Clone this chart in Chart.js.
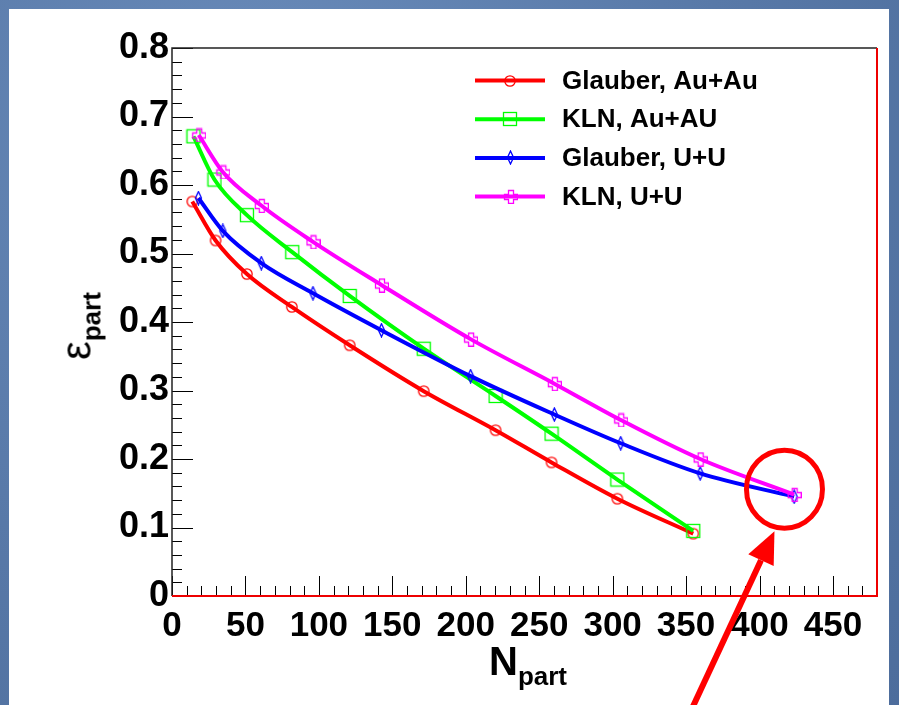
<!DOCTYPE html>
<html>
<head>
<meta charset="utf-8">
<title>eccentricity vs Npart</title>
<script src="https://cdn.jsdelivr.net/npm/chart.js@4.4.0/dist/chart.umd.min.js"></script>
<style>
    html, body { margin: 0; padding: 0; }
    body {
        width: 899px; height: 705px; overflow: hidden; position: relative;
        background: radial-gradient(circle at 30% 20%, #6a8cbb 0%, #5879a8 55%, #4d6d9c 100%);
        font-family: "Liberation Sans", Arial, Helvetica, sans-serif;
    }
    #panel { position: absolute; left: 9px; top: 9px; width: 880px; height: 700px; background: #fff; }
    #chartBox { position: absolute; left: 0; top: 0; width: 899px; height: 705px; }
    .ttl { position: absolute; font-weight: bold; color: #000; white-space: nowrap; line-height: 1; }
    .ttl sub { font-size: 26px; vertical-align: -10px; }
</style>
</head>
<body>
<div id="panel"></div>
<div id="chartBox"><canvas id="eccChart" width="899" height="705"></canvas></div>
<div class="ttl" id="yTitle" style="left:80px; top:326px; transform: translate(-50%,-50%) rotate(-90deg);">
    <span style="font-weight:normal; font-size:42px;">ε</span><sub>part</sub>
</div>
<div class="ttl" id="xTitle" style="left:489px; top:641px; font-size:40px;">N<sub>part</sub></div>

<script>
// Data
const glauberAuX = [13.8, 29.7, 51.0, 81.6, 121.0, 171.4, 220.3, 258.4, 303.2, 354.9];
const glauberAuY = [0.576, 0.519, 0.470, 0.422, 0.366, 0.299, 0.242, 0.195, 0.142, 0.091];

const klnAuX = [14.6, 28.9, 51.0, 81.9, 121.0, 171.4, 220.3, 258.4, 303.2, 354.9];
const klnAuY = [0.671, 0.608, 0.556, 0.502, 0.438, 0.361, 0.292, 0.237, 0.170, 0.095];

const glauberUX = [18.0, 34.6, 60.8, 96.0, 142.6, 203.3, 260.3, 305.5, 359.6, 423.6];
const glauberUY = [0.581, 0.533, 0.486, 0.442, 0.388, 0.321, 0.265, 0.223, 0.179, 0.145];

const klnUX = [18.2, 34.6, 60.8, 96.0, 142.6, 203.3, 260.3, 305.5, 359.6, 423.6];
const klnUY = [0.673, 0.619, 0.570, 0.517, 0.454, 0.375, 0.310, 0.257, 0.200, 0.148];

const seriesLabels = ['Glauber, Au+Au', 'KLN, Au+AU', 'Glauber, U+U', 'KLN, U+U'];

// Axis ticks
const xMajorTicks = [0, 50, 100, 150, 200, 250, 300, 350, 400, 450];
const yMajorTicks = [0, 0.1, 0.2, 0.3, 0.4, 0.5, 0.6, 0.7, 0.8];
const xRange = [0, 480];
const yRange = [0, 0.8];

// highlighted region (data units), circled in red on the slide
const highlight = { x: 417, y: 0.156 };

function toPoints(xs, ys) {
    return xs.map((x, i) => ({ x: x, y: ys[i] }));
}

function makeMarker(w, h, color, drawFn) {
    const c = document.createElement('canvas');
    c.width = w;
    c.height = h;
    const g = c.getContext('2d');
    g.strokeStyle = color;
    g.lineWidth = 1.3;
    drawFn(g);
    return c;
}

const circleMarker = makeMarker(14, 14, '#ff0000', g => {
    g.beginPath(); g.arc(7, 7, 5.2, 0, Math.PI * 2); g.stroke();
});
const squareMarker = makeMarker(16, 16, '#00ff00', g => {
    g.strokeRect(1.5, 1.5, 13, 13);
});
const diamondMarker = makeMarker(9, 15, '#0000ff', g => {
    g.beginPath();
    g.moveTo(4.5, 1); g.lineTo(7.5, 7.5); g.lineTo(4.5, 14); g.lineTo(1.5, 7.5);
    g.closePath(); g.stroke();
});
const crossMarker = makeMarker(15, 15, '#ff00ff', g => {
    g.beginPath();
    const p = [[5,1],[10,1],[10,5],[14,5],[14,10],[10,10],[10,14],[5,14],[5,10],[1,10],[1,5],[5,5]];
    p.forEach((q, i) => i ? g.lineTo(q[0] + 0.5, q[1] + 0.5) : g.moveTo(q[0] + 0.5, q[1] + 0.5));
    g.closePath(); g.stroke();
});

// ROOT style frame + inward ticks
const framePlugin = {
    id: 'frame',
    beforeDatasetsDraw(chart) {
        const { ctx, chartArea: a, scales } = chart;
        ctx.save();
        ctx.strokeStyle = '#000';
        ctx.lineWidth = 1;
        ctx.beginPath();
        for (let v = 0; v <= 480; v += 10) {
            const px = Math.round(scales.x.getPixelForValue(v)) + 0.5;
            const len = v % 50 === 0 ? 20 : 10;
            ctx.moveTo(px, a.bottom);
            ctx.lineTo(px, a.bottom - len);
        }
        for (let k = 0; k <= 40; k++) {
            const py = Math.round(scales.y.getPixelForValue(k * 0.02)) + 0.5;
            const len = k % 5 === 0 ? 21 : 10;
            ctx.moveTo(a.left, py);
            ctx.lineTo(a.left + len, py);
        }
        ctx.stroke();

        // top and left in black
        ctx.strokeStyle = '#222';
        ctx.lineWidth = 1.5;
        ctx.beginPath();
        ctx.moveTo(a.left, a.bottom);
        ctx.lineTo(a.left, a.top);
        ctx.lineTo(a.right, a.top);
        ctx.stroke();
        // right and bottom in red
        ctx.strokeStyle = '#ee0000';
        ctx.lineWidth = 2;
        ctx.beginPath();
        ctx.moveTo(a.right, a.top);
        ctx.lineTo(a.right, a.bottom);
        ctx.lineTo(a.left, a.bottom);
        ctx.stroke();
        ctx.restore();
    }
};

// legend inside the frame, line + marker like ROOT TLegend
const legendPlugin = {
    id: 'innerLegend',
    afterDatasetsDraw(chart) {
        const { ctx, chartArea: a } = chart;
        const x0 = a.left + 303;
        const lineLen = 70;
        ctx.save();
        ctx.font = 'bold 26px "Liberation Sans", Arial, sans-serif';
        ctx.textBaseline = 'middle';
        ctx.fillStyle = '#000';
        chart.data.datasets.forEach((ds, i) => {
            const y = a.top + 32.5 + i * 38.7;
            ctx.strokeStyle = ds.borderColor;
            ctx.lineWidth = 4;
            ctx.beginPath();
            ctx.moveTo(x0, y);
            ctx.lineTo(x0 + lineLen, y);
            ctx.stroke();
            const m = ds.pointStyle;
            ctx.drawImage(m, Math.round(x0 + lineLen / 2 - m.width / 2), Math.round(y - m.height / 2));
            ctx.fillText(ds.label, x0 + 87, y + 1);
        });
        ctx.restore();
    }
};

// red circle and arrow drawn on the slide
const annotationPlugin = {
    id: 'slideMarks',
    afterDraw(chart) {
        const { ctx, scales } = chart;
        const cx = scales.x.getPixelForValue(highlight.x);
        const cy = scales.y.getPixelForValue(highlight.y);
        const rx = 38, ry = 39;
        ctx.save();
        ctx.strokeStyle = '#ff0000';
        ctx.fillStyle = '#ff0000';
        ctx.lineWidth = 5;
        ctx.beginPath();
        ctx.ellipse(cx, cy, rx, ry, 0, 0, Math.PI * 2);
        ctx.stroke();

        const tipX = cx - 10, tipY = cy + ry + 3;
        const tailX = tipX - 86, tailY = tipY + 185;
        const dx = tipX - tailX, dy = tipY - tailY;
        const len = Math.hypot(dx, dy);
        const ux = dx / len, uy = dy / len;
        const headLen = 32, headW = 14;
        const bx = tipX - ux * headLen, by = tipY - uy * headLen;
        ctx.lineWidth = 6;
        ctx.beginPath();
        ctx.moveTo(tailX, tailY);
        ctx.lineTo(bx, by);
        ctx.stroke();
        ctx.beginPath();
        ctx.moveTo(tipX, tipY);
        ctx.lineTo(bx - uy * headW, by + ux * headW);
        ctx.lineTo(bx + uy * headW, by - ux * headW);
        ctx.closePath();
        ctx.fill();
        ctx.restore();
    }
};

function makeDataset(label, xs, ys, color, marker, order) {
    return {
        label: label,
        data: toPoints(xs, ys),
        borderColor: color,
        backgroundColor: color,
        borderWidth: 4,
        showLine: true,
        cubicInterpolationMode: 'monotone',
        pointStyle: marker,
        pointRadius: 6,
        order: order
    };
}

const ctx = document.getElementById('eccChart').getContext('2d');

new Chart(ctx, {
    type: 'scatter',
    data: {
        datasets: [
            makeDataset(seriesLabels[0], glauberAuX, glauberAuY, '#ff0000', circleMarker, 4),
            makeDataset(seriesLabels[1], klnAuX, klnAuY, '#00ff00', squareMarker, 3),
            makeDataset(seriesLabels[2], glauberUX, glauberUY, '#0000ff', diamondMarker, 2),
            makeDataset(seriesLabels[3], klnUX, klnUY, '#ff00ff', crossMarker, 1)
        ]
    },
    options: {
        responsive: false,
        animation: false,
        events: [],
        layout: {
            padding: { top: 48, right: 22, left: 0, bottom: 0 }
        },
        plugins: {
            legend: { display: false },
            tooltip: { enabled: false }
        },
        scales: {
            x: {
                type: 'linear',
                min: xRange[0],
                max: xRange[1],
                grid: { display: false, drawTicks: false },
                border: { display: false },
                afterBuildTicks: s => { s.ticks = xMajorTicks.map(v => ({ value: v })); },
                afterFit: s => { s.height = 109; s.paddingLeft = 0; s.paddingRight = 0; },
                ticks: {
                    padding: 9,
                    maxRotation: 0,
                    autoSkip: false,
                    color: '#000',
                    font: { family: '"Liberation Sans", Arial, sans-serif', size: 35, weight: 'bold' },
                    callback: v => String(v)
                }
            },
            y: {
                min: yRange[0],
                max: yRange[1],
                grid: { display: false, drawTicks: false },
                border: { display: false },
                afterBuildTicks: s => { s.ticks = yMajorTicks.map(v => ({ value: v })); },
                afterFit: s => { s.width = 172; s.paddingTop = 0; s.paddingBottom = 0; },
                ticks: {
                    padding: 3,
                    autoSkip: false,
                    color: '#000',
                    font: { family: '"Liberation Sans", Arial, sans-serif', size: 36, weight: 'bold' },
                    callback: v => (v === 0 ? '0' : v.toFixed(1))
                }
            }
        }
    },
    plugins: [framePlugin, legendPlugin, annotationPlugin]
});
</script>
</body>
</html>
